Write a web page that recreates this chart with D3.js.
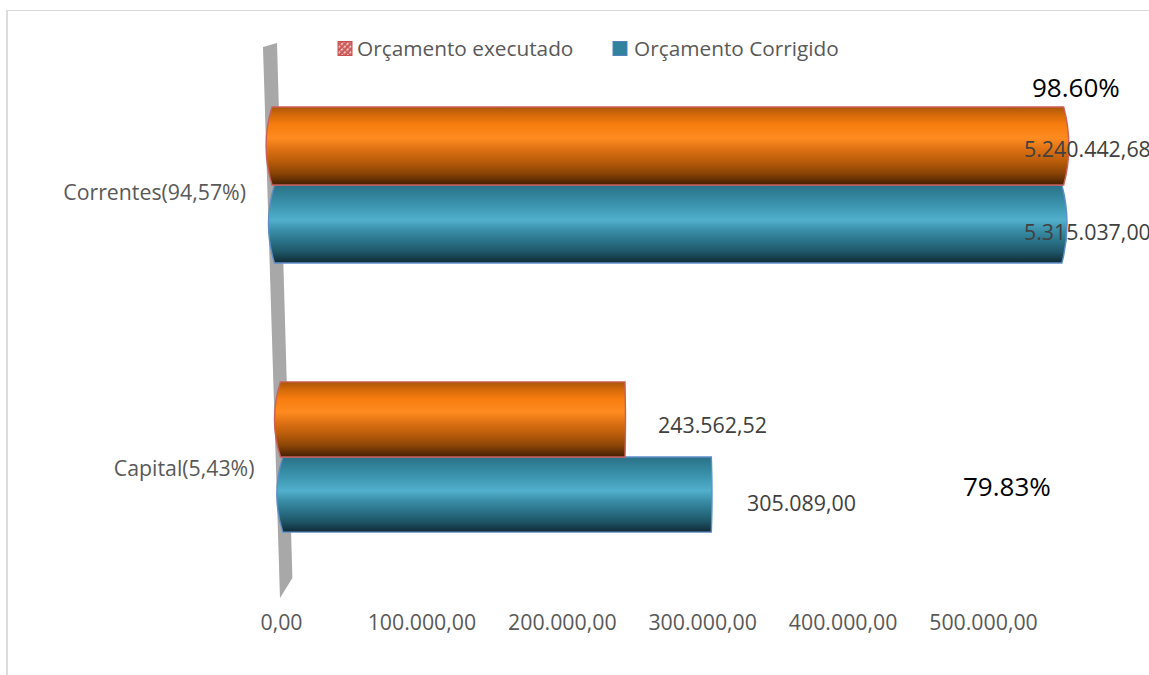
<!DOCTYPE html>
<html><head><meta charset="utf-8">
<script src="https://cdnjs.cloudflare.com/ajax/libs/d3/7.8.5/d3.min.js"></script>
<style>html,body{margin:0;padding:0;background:#fff;overflow:hidden}svg{display:block}text{font-family:"Open Sans",sans-serif}</style>
</head><body><svg id="c" width="1149" height="675"></svg>
<script>
// Data
const categories = ["Correntes(94,57%)", "Capital(5,43%)"];
const seriesNames = ["Orçamento executado", "Orçamento Corrigido"];
// Values as drawn: the source chart's bars of the first category are not to the printed scale
const executedPlotted = [572000, 250000];
const correctedPlotted = [569000, 310000];
const executedLabels = ["5.240.442,68", "243.562,52"];
const correctedLabels = ["5.315.037,00", "305.089,00"];
const ratioLabels = ["98.60%", "79.83%"];
const tickValues = [0, 100000, 200000, 300000, 400000, 500000];

const W = 1149, H = 675;
const svg = d3.select("#c");
const ptBR = d3.formatLocale({decimal: ",", thousands: ".", grouping: [3], currency: ["", ""]});
const x = d3.scaleLinear().domain([0, 500000]).range([281, 983]);
const y = d3.scaleBand().domain(categories).range([49, 593]).paddingInner(0.426).paddingOuter(0.213);

// 3D floor/wall lean: the zero line drifts to the right as it goes down
const lean = py => -18 + (py - 47) * 17 / 551;
const wallW = 14;
// perspective: the nearer row is drawn a little thinner
const rowDepth = [1, 0.962];

const defs = svg.append("defs");
function grad(id, stops) {
  const g = defs.append("linearGradient").attr("id", id).attr("x1", 0).attr("x2", 0).attr("y1", 0).attr("y2", 1);
  stops.forEach(s => g.append("stop").attr("offset", s[0]).attr("stop-color", s[1]));
}
grad("gOrange", [[0,"#a95607"],[.1,"#d4690a"],[.22,"#f67c0e"],[.4,"#ff8b20"],[.55,"#dc7012"],[.7,"#b95c0a"],[.85,"#8a4406"],[.96,"#552803"],[1,"#452002"]]);
grad("gTeal", [[0,"#2a7086"],[.12,"#318299"],[.25,"#3a93ad"],[.45,"#52b0cd"],[.58,"#3a8ea8"],[.72,"#2a7288"],[.86,"#1e5567"],[.97,"#12323e"],[1,"#102c37"]]);
const pat = defs.append("pattern").attr("id", "hatch").attr("width", 4).attr("height", 4)
  .attr("patternUnits", "userSpaceOnUse").attr("patternTransform", "rotate(45)");
pat.append("rect").attr("width", 4).attr("height", 4).attr("fill", "#cb5a58");
pat.append("rect").attr("x", 0).attr("y", 0).attr("width", 1.6).attr("height", 2.6).attr("fill", "#f0d0cf");

// Frame
svg.append("rect").attr("x", 6).attr("y", 10).attr("width", W).attr("height", 1).attr("fill", "#d9d9d9");
svg.append("rect").attr("x", 6).attr("y", 10).attr("width", 2).attr("height", H).attr("fill", "#dcdcdc");

// Wall
const wallTop = 47, wallBot = 598;
svg.append("path").attr("fill", "#a8a8a8").attr("d", d3.line()([
  [x(0) + lean(wallTop), wallTop],
  [x(0) + lean(wallTop) + wallW, wallTop - 4],
  [x(0) + lean(578) + wallW - 1, 578],
  [x(0) + lean(wallBot), wallBot]
]) + "Z");

// Bars (cylinders seen in perspective: end caps bulge more away from the view centre)
const viewCentre = 660;
function cyl(v, top, h) {
  const mid = top + h / 2, bot = top + h;
  const xL = x(0) + lean(mid);
  const xR = x(v) + lean(mid);
  const bL = 6, bR = Math.max(0.5, Math.abs(xR - viewCentre) / 75);
  return `M${xL + bL},${top} L${xR - bR},${top} Q${xR + bR * 0.9},${mid} ${xR - bR},${bot} ` +
         `L${xL + bL},${bot} Q${xL - bL},${mid} ${xL + bL},${top} Z`;
}
const rows = categories.map((c, i) => ({c, i}));
const rowCentre = d => y(d.c) + y.bandwidth() / 2;
[
  {order: 0, vals: correctedPlotted, fill: "url(#gTeal)", stroke: "#5f8fca"},
  {order: -1, vals: executedPlotted, fill: "url(#gOrange)", stroke: "#cc5f5a"}
].forEach(s => {
  svg.append("g").selectAll("path").data(rows).join("path")
    .attr("d", d => {
      const h = y.bandwidth() / 2 * rowDepth[d.i];
      return cyl(s.vals[d.i], rowCentre(d) + s.order * h, h);
    })
    .attr("fill", s.fill).attr("stroke", s.stroke).attr("stroke-width", 1.4);
});

// Category labels
const catDy = [7, 11];
svg.append("g").selectAll("text").data(rows).join("text")
  .attr("x", d => x(0) + lean(rowCentre(d) + catDy[d.i]) - 21.5)
  .attr("y", d => rowCentre(d) + catDy[d.i])
  .attr("dy", "0.36em").attr("text-anchor", "end")
  .attr("font-size", 21.3).attr("fill", "#595959").text(d => d.c);

// Value axis
const axis = d3.axisBottom(x).tickValues(tickValues).tickSize(0).tickPadding(0).tickFormat(ptBR.format(",.2f"));
const gx = svg.append("g").attr("transform", "translate(0,615)").call(axis);
gx.select(".domain").remove();
gx.selectAll("text").attr("font-size", 21.3).attr("fill", "#595959").attr("font-family", '"Open Sans",sans-serif').attr("dy", "0.71em");

// Data labels (hand-placed in the original)
const valueLabelPos = [[1024, 149], [658, 425], [1024, 232], [747, 503]];
const valueLabels = [executedLabels[0], executedLabels[1], correctedLabels[0], correctedLabels[1]];
svg.append("g").selectAll("text").data(valueLabels).join("text")
  .attr("x", (d, i) => valueLabelPos[i][0]).attr("y", (d, i) => valueLabelPos[i][1])
  .attr("dy", "0.36em").attr("font-size", 21.4).attr("fill", "#404040").text(d => d);

const ratioPos = [[1032, 88], [963, 487]];
svg.append("g").selectAll("text").data(ratioLabels).join("text")
  .attr("x", (d, i) => ratioPos[i][0]).attr("y", (d, i) => ratioPos[i][1])
  .attr("dy", "0.36em").attr("font-size", 26).attr("fill", "#000").text(d => d);

// Legend
const legend = [
  {t: seriesNames[0], sx: 338, tx: 357, fill: "url(#hatch)", stroke: "#c9504f"},
  {t: seriesNames[1], sx: 613, tx: 634, fill: "#31839d", stroke: "#4f81bd"}
];
const lg = svg.append("g");
lg.selectAll("rect").data(legend).join("rect")
  .attr("x", d => d.sx).attr("y", 41.5).attr("width", 14).attr("height", 14)
  .attr("fill", d => d.fill).attr("stroke", d => d.stroke).attr("stroke-width", 1);
lg.selectAll("text").data(legend).join("text")
  .attr("x", d => d.tx).attr("y", 49).attr("dy", "0.36em")
  .attr("font-size", 20.8).attr("fill", "#595959").text(d => d.t);
</script></body></html>
